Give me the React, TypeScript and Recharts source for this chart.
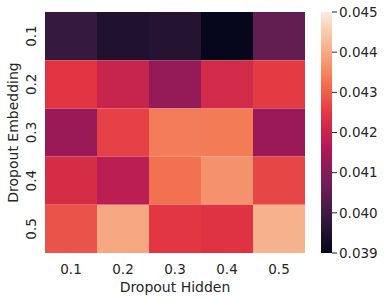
import React from "react";
import { BarChart, Bar, XAxis, YAxis, Cell, Label } from "recharts";

const hiddenLabels = ["0.1", "0.2", "0.3", "0.4", "0.5"];
const embeddingLabels = ["0.1", "0.2", "0.3", "0.4", "0.5"];

// loss values, rows = Dropout Embedding, columns = Dropout Hidden
const emb01 = [0.03986, 0.0395, 0.03958, 0.03905, 0.04051];
const emb02 = [0.04243, 0.042, 0.04124, 0.04217, 0.04252];
const emb03 = [0.0413, 0.04259, 0.04338, 0.04336, 0.04132];
const emb04 = [0.04225, 0.0418, 0.04322, 0.04367, 0.04268];
const emb05 = [0.04284, 0.04396, 0.04248, 0.0424, 0.04411];
const rows = [emb01, emb02, emb03, emb04, emb05];

const colorbarTicks = [0.039, 0.04, 0.041, 0.042, 0.043, 0.044, 0.045];
const vmin = 0.039;
const vmax = 0.045;

const ROCKET: [number, string][] = [
  [0, "#03051a"],
  [1 / 7, "#35193e"],
  [2 / 7, "#701f57"],
  [3 / 7, "#ad1759"],
  [4 / 7, "#e13342"],
  [5 / 7, "#f37651"],
  [6 / 7, "#f6b48f"],
  [1, "#faebdd"],
];

function hexToRgb(h: string) {
  return [1, 3, 5].map((i) => parseInt(h.slice(i, i + 2), 16));
}

function rocket(v: number) {
  let t = (v - vmin) / (vmax - vmin);
  t = Math.max(0, Math.min(1, t));
  for (let i = 0; i < ROCKET.length - 1; i++) {
    const [p0, c0] = ROCKET[i];
    const [p1, c1] = ROCKET[i + 1];
    if (t <= p1) {
      const f = (t - p0) / (p1 - p0);
      const a = hexToRgb(c0);
      const b = hexToRgb(c1);
      const c = a.map((x, k) => Math.round(x + (b[k] - x) * f));
      return `rgb(${c[0]},${c[1]},${c[2]})`;
    }
  }
  return ROCKET[ROCKET.length - 1][1];
}

const data = hiddenLabels.map((h) => {
  const o: any = { hidden: h };
  embeddingLabels.forEach((_, i) => {
    o[`e${i}`] = 1;
  });
  return o;
});

const FONT = "DejaVu Sans";
const TXT = "#262626";
const FS = 13.5;
const LFS = 14;

const YTick = (props: any) => {
  const { x, y, payload } = props;
  const tx = x - 14;
  return (
    <text
      x={tx}
      y={y}
      transform={`rotate(-90, ${tx}, ${y})`}
      textAnchor="middle"
      dominantBaseline="central"
      fill={TXT}
      fontSize={FS}
      fontFamily={FONT}
    >
      {embeddingLabels[Math.floor(payload.value)]}
    </text>
  );
};

const cbData = [{ name: "cb", range: [vmin, vmax] }];

export default function App() {
  return (
    <div style={{ position: "absolute", left: 0, top: 0, width: 386, height: 299, background: "#fff" }}>
      <div style={{ position: "absolute", left: 0, top: 0 }}>
        <BarChart
          width={386}
          height={299}
          data={data}
          margin={{ top: 12, right: 81, bottom: 0, left: 0 }}
          barCategoryGap={0}
          barGap={0}
        >
          <XAxis
            dataKey="hidden"
            height={46}
            axisLine={false}
            tickLine={false}
            tickSize={0}
            tickMargin={11}
            tick={{ fill: TXT, fontSize: FS, fontFamily: FONT }}
          >
            <Label
              content={(p: any) => {
                const vb = p.viewBox;
                return (
                  <text
                    x={vb.x + vb.width / 2}
                    y={vb.y + vb.height - 7}
                    textAnchor="middle"
                    fill={TXT}
                    fontSize={LFS}
                    fontFamily={FONT}
                  >
                    Dropout Hidden
                  </text>
                );
              }}
            />
          </XAxis>
          <YAxis
            type="number"
            domain={[0, 5]}
            reversed
            width={45}
            ticks={[0.5, 1.5, 2.5, 3.5, 4.5]}
            axisLine={false}
            tickLine={false}
            tickSize={0}
            tickMargin={0}
            tick={<YTick />}
            interval={0}
          >
            <Label
              content={(p: any) => {
                const vb = p.viewBox;
                const cx = vb.x + 13;
                const cy = vb.y + vb.height / 2;
                return (
                  <text
                    x={cx}
                    y={cy}
                    transform={`rotate(-90, ${cx}, ${cy})`}
                    textAnchor="middle"
                    dominantBaseline="central"
                    fill={TXT}
                    fontSize={LFS}
                    fontFamily={FONT}
                  >
                    Dropout Embedding
                  </text>
                );
              }}
            />
          </YAxis>
          {rows.map((row, i) => (
            <Bar key={i} dataKey={`e${i}`} stackId="a" isAnimationActive={false}>
              {row.map((v, j) => (
                <Cell key={j} fill={rocket(v)} />
              ))}
            </Bar>
          ))}
        </BarChart>
      </div>
      <div style={{ position: "absolute", left: 321, top: 0 }}>
        <BarChart
          width={65}
          height={299}
          data={cbData}
          margin={{ top: 12, right: 0, bottom: 46, left: 0 }}
          barCategoryGap={0}
        >
          <defs>
            <linearGradient id="rocketGrad" x1="0" y1="0" x2="0" y2="1">
              {ROCKET.slice()
                .reverse()
                .map(([p, c], k) => (
                  <stop key={k} offset={`${(1 - p) * 100}%`} stopColor={c} />
                ))}
            </linearGradient>
          </defs>
          <XAxis dataKey="name" hide />
          <YAxis
            orientation="right"
            type="number"
            domain={[vmin, vmax]}
            ticks={colorbarTicks}
            interval={0}
            width={54}
            axisLine={false}
            tickSize={5}
            tickMargin={2}
            tickLine={{ stroke: TXT }}
            tickFormatter={(v: number) => v.toFixed(3)}
            tick={{ fill: TXT, fontSize: FS, fontFamily: FONT }}
            allowDataOverflow
          />
          <Bar dataKey="range" fill="url(#rocketGrad)" isAnimationActive={false} />
        </BarChart>
      </div>
    </div>
  );
}
